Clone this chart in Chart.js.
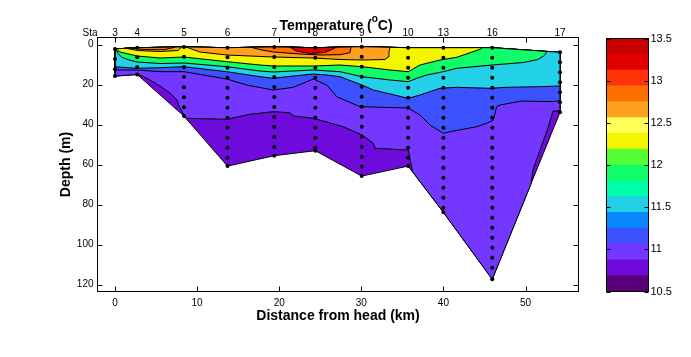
<!DOCTYPE html>
<html><head><meta charset="utf-8">
<script src="https://cdn.jsdelivr.net/npm/chart.js@4.4.0/dist/chart.umd.min.js"></script>
<style>html,body{margin:0;padding:0;background:#fff;}#wrap{position:relative;width:691px;height:357px;}canvas{position:absolute;left:0;top:0;}</style>
</head><body><div id="wrap"><canvas id="c" width="691" height="357"></canvas><canvas id="cb" width="691" height="357"></canvas></div>
<script>
// ---------- DATA ----------
const stationNames = ['3','4','5','6','7','8','9','10','13','16','17'];
const stationKm    = [0, 2.7, 8.4, 13.7, 19.4, 24.4, 30.05, 35.7, 40.0, 45.95, 54.2];
const topDepth     = [2.2, 1.6, 1.2, 1.6, 1.2, 1.6, 1.1, 1.6, 1.6, 1.6, 3.9];
const bottomDepth  = [15.8, 15.0, 35.8, 60.8, 55.6, 53.1, 65.8, 60.8, 83.9, 117.4, 33.9];
const sampleDepths = [
  [2.2, 7.2, 12.4, 15.8],
  [1.6, 6.4, 11.3, 15.0],
  [1.2, 6.1, 11.2, 16.2, 21.4, 26.4, 31.4, 35.8],
  [1.6, 6.4, 11.6, 16.6, 21.6, 26.6, 31.6, 36.6, 41.6, 46.6, 51.6, 56.6, 60.8],
  [1.2, 6.2, 11.2, 16.2, 21.2, 26.2, 31.2, 36.2, 41.2, 46.2, 51.2, 55.6],
  [1.6, 6.6, 11.6, 16.6, 21.6, 26.6, 31.6, 36.6, 41.6, 46.6, 51.6, 53.1],
  [1.1, 6.1, 11.1, 16.1, 21.1, 26.1, 31.1, 36.1, 41.1, 46.1, 51.1, 56.1, 61.1, 65.8],
  [1.6, 6.6, 11.6, 16.6, 21.6, 26.6, 31.6, 36.6, 41.6, 46.6, 51.6, 56.6, 60.8],
  [1.6, 6.6, 11.6, 16.6, 21.6, 26.6, 31.6, 36.6, 41.6, 46.6, 51.6, 56.6, 61.6, 66.6, 71.6, 76.6, 81.6, 83.9],
  [1.6, 6.6, 11.6, 16.6, 21.6, 26.6, 31.6, 36.6, 41.6, 46.6, 51.6, 56.6, 61.6, 66.6, 71.6, 76.6, 81.6, 86.6, 91.6, 96.6, 101.6, 106.6, 111.6, 117.4],
  [3.9, 8.9, 13.9, 18.9, 23.9, 28.9, 33.9]
];
const xTicks = [0, 10, 20, 30, 40, 50];
const yTicks = [0, 20, 40, 60, 80, 100, 120];

// colour scale (temperature, deg C)
const cbEdges  = [10.5, 10.6875, 10.875, 11.0625, 11.25, 11.4375, 11.625, 11.8125, 12.0, 12.1875, 12.375, 12.5625, 12.75, 12.9375, 13.125, 13.3125, 13.5];
const cbColors = ['rgb(92,0,122)','rgb(110,10,220)','rgb(115,55,255)','rgb(60,82,255)','rgb(10,135,255)','rgb(34,208,232)','rgb(0,255,170)','rgb(16,252,104)','rgb(85,255,50)','rgb(245,245,0)','rgb(255,255,85)','rgb(255,160,32)','rgb(255,110,0)','rgb(255,50,10)','rgb(225,0,0)','rgb(200,0,0)'];
const cbTicks  = [10.5, 11, 11.5, 12, 12.5, 13, 13.5];

// isotherm boundaries (distance km, depth m): region warmer than the level lies above each line
const iso10_9 = [[0,15.8],[2.72,15.0],[3.17,15.5],[4.26,17.75],[5.48,20.75],[6.70,24.25],[7.55,27.75],[7.80,30.75],[8.32,34.75],[8.40,35.75],[8.73,36.9],[13.61,37.4],[16.44,34.9],[19.28,33.6],[21.32,34.1],[21.72,35.75],[24.15,36.9],[27.81,41.1],[30.09,45.25],[31.46,49.4],[31.67,51.9],[35.72,52.75],[35.93,56.9],[36.24,63.6],[40.0,83.9],[45.95,117.4],[50.67,69.7],[50.91,62.75],[51.77,52.75],[52.74,41.75],[53.35,33.3],[54.2,33.1]];
const iso11_1 = [[0,12.75],[2.64,12.75],[5.48,13.6],[8.40,13.6],[13.61,17.25],[16.04,20.25],[19.28,22.75],[21.72,21.4],[24.15,17.25],[25.79,20.25],[27.0,26.1],[29.84,31.1],[35.72,31.75],[37.15,35.25],[38.37,40.25],[39.99,44.4],[40.80,43.6],[44.06,41.1],[45.27,39.4],[46.08,37.75],[46.49,31.1],[46.89,30.25],[49.54,28.25],[53.39,28.6],[54.2,28.0]];
const iso11_5 = [[0,11.1],[2.64,11.9],[5.48,11.6],[8.40,11.1],[13.61,13.6],[17.66,16.1],[19.28,16.9],[21.72,15.75],[24.15,14.75],[25.79,15.25],[27.41,16.1],[30.09,20.25],[31.46,22.75],[35.72,26.9],[37.15,25.25],[39.59,21.9],[41.62,21.4],[45.68,21.9],[47.71,21.4],[51.77,21.1],[54.2,20.75]];
const iso11_9 = [[0.15,2.4],[0.37,4.5],[0.8,6.3],[1.6,7.6],[2.72,8.75],[5.48,9.5],[8.40,9.25],[13.61,11.1],[17.66,13.25],[19.28,13.75],[21.72,13.25],[24.15,12.75],[27.41,13.6],[30.09,16.1],[33.5,17.75],[35.72,18.6],[36.75,16.9],[37.97,15.25],[39.99,13.6],[41.62,11.9],[45.96,10.25],[49.73,9.0],[51.5,7.5],[52.3,5.5],[52.6,3.5]];
const iso12_3 = [[0.12,2.3],[0.61,3.75],[2.72,5.75],[5.48,6.75],[8.40,6.25],[13.61,8.6],[17.66,10.25],[19.28,10.75],[24.15,10.75],[27.41,10.25],[30.09,11.1],[33.5,12.75],[35.72,13.6],[37.15,10.25],[39.59,7.75],[41.62,6.4],[44.46,2.4],[44.7,1.6]];
const iso12_7a = [[1.22,1.8],[2.72,3.0],[5.48,3.5],[7.67,3.0],[8.1,1.3]];
const iso12_7b = [[8.65,1.25],[10.35,3.75],[13.61,5.25],[19.28,6.25],[24.15,6.75],[27.41,7.5],[30.21,7.75],[32.89,7.5],[33.29,6.25],[33.37,3.75],[33.5,1.3]];
const iso12_9a = [[1.83,1.7],[3.41,2.5],[6.0,2.6],[7.3,1.4]];
const iso12_9b = [[16.44,1.3],[17.9,2.75],[19.28,3.75],[22.53,4.75],[24.97,5.25],[27.41,5.1],[28.62,4.1],[28.75,1.2]];
const iso13_1 = [[21.32,1.3],[22.05,3.25],[23.75,4.5],[25.58,4.0],[26.55,2.25],[26.92,1.4]];

// ---------- BUILD ----------
function topAt(x){
  for (let i=0;i<stationKm.length-1;i++){
    if (x>=stationKm[i] && x<=stationKm[i+1]){
      const f=(x-stationKm[i])/(stationKm[i+1]-stationKm[i]);
      return topDepth[i]+f*(topDepth[i+1]-topDepth[i]);
    }
  }
  return x<0?topDepth[0]:topDepth[topDepth.length-1];
}
function regionPolygon(b){
  const pts=b.map(p=>({x:p[0],y:p[1]}));
  const xs=b[0][0], xe=b[b.length-1][0];
  pts.push({x:xe,y:topAt(xe)});
  for (let i=stationKm.length-1;i>=0;i--) if (stationKm[i]<xe && stationKm[i]>xs) pts.push({x:stationKm[i],y:topDepth[i]});
  pts.push({x:xs,y:topAt(xs)});
  pts.push({...pts[0]});
  return pts;
}
function domainPolygon(){
  const pts=stationKm.map((x,i)=>({x,y:topDepth[i]}));
  for (let i=stationKm.length-1;i>=0;i--) pts.push({x:stationKm[i],y:bottomDepth[i]});
  pts.push({...pts[0]});
  return pts;
}
const regions = [
  {pts: domainPolygon(), c: cbColors[1]},
  {pts: regionPolygon(iso10_9), c: cbColors[2]},
  {pts: regionPolygon(iso11_1), c: cbColors[3]},
  {pts: regionPolygon(iso11_5), c: cbColors[5]},
  {pts: regionPolygon(iso11_9), c: cbColors[7]},
  {pts: regionPolygon(iso12_3), c: cbColors[9]},
  {pts: regionPolygon(iso12_7a), c: cbColors[11]},
  {pts: regionPolygon(iso12_7b), c: cbColors[11]},
  {pts: regionPolygon(iso12_9a), c: cbColors[12]},
  {pts: regionPolygon(iso12_9b), c: cbColors[12]},
  {pts: regionPolygon(iso13_1), c: cbColors[14]}
];
const datasets = regions.map((r,i)=>({
  data: r.pts, showLine:true, fill:'shape', backgroundColor:r.c, borderColor:'#000', borderWidth:1,
  pointRadius:0, tension:0, order: 100-i
}));
const dots=[];
stationKm.forEach((x,i)=>sampleDepths[i].forEach(d=>dots.push({x,y:d})));
datasets.push({data:dots, showLine:false, pointRadius:2, pointBackgroundColor:'#000', pointBorderWidth:0, order:0});

const FONT='"Liberation Sans", Arial, sans-serif';
const framePlugin = {
  id:'frame',
  afterDraw(chart){
    const {ctx, chartArea:a, scales:{x,y}} = chart;
    ctx.save();
    ctx.strokeStyle='#000'; ctx.lineWidth=1;
    ctx.strokeRect(a.left, a.top, a.right-a.left, a.bottom-a.top);
    ctx.beginPath();
    xTicks.forEach(v=>{const p=Math.round(x.getPixelForValue(v))+0.5; ctx.moveTo(p,a.bottom); ctx.lineTo(p,a.bottom-5); ctx.moveTo(p,a.top); ctx.lineTo(p,a.top+5);});
    yTicks.forEach(v=>{const p=Math.round(y.getPixelForValue(v))+0.5; ctx.moveTo(a.left,p); ctx.lineTo(a.left+5,p); ctx.moveTo(a.right,p); ctx.lineTo(a.right-5,p);});
    ctx.stroke();
    ctx.fillStyle='#000';
    ctx.font='10px '+FONT; ctx.textBaseline='alphabetic'; ctx.textAlign='center';
    stationNames.forEach((n,i)=>ctx.fillText(n, x.getPixelForValue(stationKm[i]), 36));
    ctx.textAlign='right'; ctx.fillText('Sta', a.left, 36);
    // title
    const big='bold 14px '+FONT, small='bold 10px '+FONT;
    ctx.font=big; const w1=ctx.measureText('Temperature (').width, w3=ctx.measureText('C)').width;
    ctx.font=small; const w2=ctx.measureText('o').width;
    let x0=(a.left+a.right)/2-(w1+w2+w3)/2-2;
    ctx.textAlign='left';
    ctx.font=big; ctx.fillText('Temperature (', x0, 29.5);
    ctx.font=small; ctx.fillText('o', x0+w1, 22);
    ctx.font=big; ctx.fillText('C)', x0+w1+w2, 29.5);
    ctx.restore();
  }
};

new Chart(document.getElementById('c'), {
  type:'line',
  data:{datasets},
  options:{
    responsive:false, animation:false, devicePixelRatio:1,
    layout:{padding:{left:0, top:37.5, right:112.5, bottom:0}},
    plugins:{legend:{display:false}, tooltip:{enabled:false}, filler:{propagate:false}},
    scales:{
      x:{type:'linear', min:-2.131, max:56.455,
         afterBuildTicks(s){s.ticks=xTicks.map(v=>({value:v}));},
         ticks:{color:'#000', font:{size:10, family:FONT}, padding:6, maxRotation:0},
         grid:{display:false, drawTicks:false}, border:{display:false},
         title:{display:true, text:'Distance from head (km)', color:'#000', font:{size:14, weight:'bold', family:FONT}, padding:{top:0,bottom:32.6}},
         afterFit(s){s.height=65.5;}},
      y:{type:'linear', reverse:true, min:-3.5, max:123.5,
         afterBuildTicks(s){s.ticks=yTicks.map(v=>({value:v}));},
         ticks:{color:'#000', font:{size:10, family:FONT}, padding:4},
         grid:{display:false, drawTicks:false}, border:{display:false},
         title:{display:true, text:'Depth (m)', color:'#000', font:{size:14, weight:'bold', family:FONT}, padding:{top:57.6,bottom:0}},
         afterFit(s){s.width=97.5;}}
    }
  },
  plugins:[framePlugin]
});

// ---------- COLOUR BAR ----------
const cbFrame = {
  id:'cbframe',
  afterDraw(chart){
    const {ctx, chartArea:a, scales:{y}} = chart;
    ctx.save(); ctx.strokeStyle='#000'; ctx.lineWidth=1;
    ctx.strokeRect(a.left, a.top, a.right-a.left, a.bottom-a.top);
    ctx.beginPath();
    cbTicks.forEach(v=>{const p=Math.round(y.getPixelForValue(v))+0.5; ctx.moveTo(a.left,p); ctx.lineTo(a.left+4,p); ctx.moveTo(a.right,p); ctx.lineTo(a.right-4,p);});
    ctx.stroke(); ctx.restore();
  }
};
new Chart(document.getElementById('cb'), {
  type:'bar',
  data:{labels:['T'], datasets: cbColors.map((c,i)=>({data:[[cbEdges[i], cbEdges[i+1]]], backgroundColor:c, borderWidth:0, barPercentage:1, categoryPercentage:1, grouped:false}))},
  options:{
    responsive:false, animation:false, devicePixelRatio:1,
    layout:{padding:{left:606.5, top:38.5, right:0, bottom:65.5}},
    plugins:{legend:{display:false}, tooltip:{enabled:false}},
    scales:{
      x:{display:false},
      y:{position:'right', min:10.5, max:13.5,
         afterBuildTicks(s){s.ticks=cbTicks.map(v=>({value:v}));},
         ticks:{color:'#000', font:{size:11, family:FONT}, padding:2, callback:(v)=>String(v)},
         grid:{display:false, drawTicks:false}, border:{display:false},
         afterFit(s){s.width=42.5;}}
    }
  },
  plugins:[cbFrame]
});
</script></body></html>
